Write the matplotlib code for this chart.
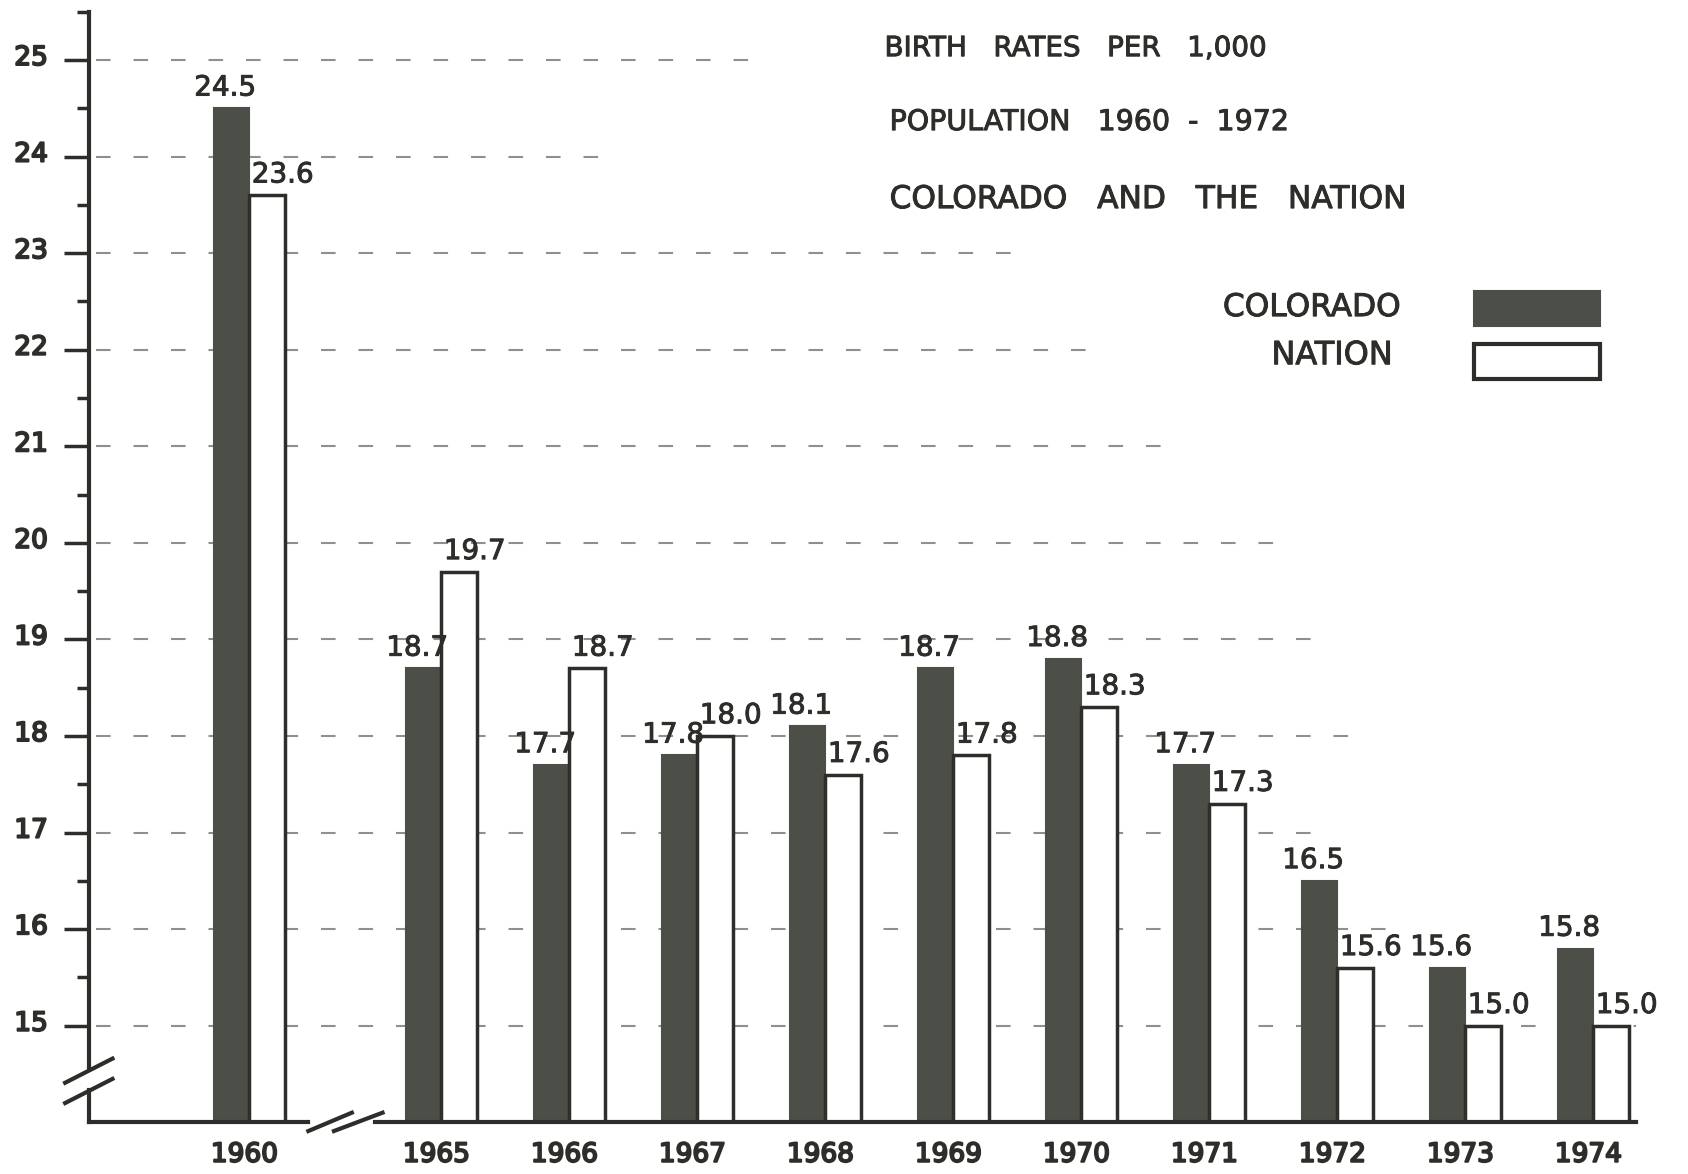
import numpy as np
import matplotlib.pyplot as plt
import matplotlib.transforms as mtransforms
import matplotlib.patheffects as pe
from matplotlib.patches import Rectangle

# birth rates per 1,000 population
years = ['1960', '1965', '1966', '1967', '1968', '1969', '1970', '1971', '1972', '1973', '1974']
colorado = [24.5, 18.7, 17.7, 17.8, 18.1, 18.7, 18.8, 17.7, 16.5, 15.6, 15.8]
nation = [23.6, 19.7, 18.7, 18.0, 17.6, 17.8, 18.3, 17.3, 15.6, 15.0, 15.0]

ink = '#2d2e29'
dark = '#4b4f47'
plt.rcParams['font.family'] = ['DejaVu Sans']
heavy = [pe.withStroke(linewidth=0.7, foreground=ink)]
heavier = [pe.withStroke(linewidth=1.4, foreground=ink)]

# group positions: extra gap after 1960 where the axis is broken
x = np.arange(len(years)) + 0.5
x[0] = 0.0
w = 0.28

fig = plt.figure(figsize=(16.88, 11.74), dpi=100)
ax = fig.add_axes([0.053, 0.044, 0.916, 0.946])
ax.set_xlim(-1.25, 10.83)
ax.set_ylim(14, 25.5)
for s in ax.spines.values():
    s.set_visible(False)

# dashed guide lines, each stopping part way across
grid_end = {25: 3.93, 24: 2.84, 23: 5.95, 22: 6.54, 21: 7.17, 20: 8.09,
            19: 8.34, 18: 8.76, 17: 8.4, 16: 8.97, 15: 10.83}
for lvl, xe in grid_end.items():
    ax.plot([-1.2, xe], [lvl, lvl], color='#6a6a64', lw=1.5,
            ls=(0, (7, 11)), alpha=0.75, zorder=1)

ax.bar(x - w / 2, np.array(colorado) - 14, w, bottom=14, color=dark,
       edgecolor=dark, lw=1.5, zorder=3)
ax.bar(x + w / 2, np.array(nation) - 14, w, bottom=14, color='white',
       edgecolor=ink, lw=2.5, zorder=3)

for xi, c, n in zip(x, colorado, nation):
    ax.text(xi - w / 2 - 0.05, c + 0.07, f'{c:.1f}', ha='center', va='bottom',
            fontsize=20, color=ink, zorder=4, path_effects=heavy)
    ax.text(xi + w / 2 + 0.12, n + 0.07, f'{n:.1f}', ha='center', va='bottom',
            fontsize=20, color=ink, zorder=4, path_effects=heavy)

# y axis with a break near the bottom
ax.plot([-1.25, -1.25], [14.57, 25.5], color=ink, lw=3, clip_on=False, zorder=5)
ax.plot([-1.25, -1.25], [14, 14.33], color=ink, lw=3, clip_on=False, zorder=5)
ax.plot([-1.44, -1.07], [14.41, 14.66], color=ink, lw=3, clip_on=False, zorder=5)
ax.plot([-1.44, -1.07], [14.2, 14.45], color=ink, lw=3, clip_on=False, zorder=5)

# x axis with a break between 1960 and 1965
ax.plot([-1.25, 0.46], [14, 14], color=ink, lw=3, clip_on=False, zorder=5)
ax.plot([0.98, 10.83], [14, 14], color=ink, lw=3, clip_on=False, zorder=5)
ax.plot([0.46, 0.8], [13.91, 14.1], color=ink, lw=3, clip_on=False, zorder=5)
ax.plot([0.66, 1.04], [13.91, 14.1], color=ink, lw=3, clip_on=False, zorder=5)

ax.set_yticks(np.arange(15, 26))
ax.set_yticks(np.arange(15.5, 26, 1), minor=True)
ax.tick_params(axis='y', which='major', direction='out', length=18, width=2.5,
               color=ink, labelsize=19, labelcolor=ink, pad=12)
ax.tick_params(axis='y', which='minor', direction='out', length=9, width=2.5, color=ink)
ax.yaxis.set_ticks_position('left')
# numbers sit a little above their ticks
lift = mtransforms.ScaledTranslation(0, 0.05, fig.dpi_scale_trans)
for lab in ax.get_yticklabels():
    lab.set_transform(lab.get_transform() + lift)
    lab.set_path_effects(heavier)

ax.set_xticks(x - 0.04)
ax.set_xticklabels(years)
ax.tick_params(axis='x', length=0, labelsize=19, labelcolor=ink, pad=14)
for lab in ax.get_xticklabels():
    lab.set_path_effects(heavier)

# title block
fig.text(0.524, 0.959, 'BIRTH   RATES   PER   1,000', fontsize=20, color=ink,
         va='center', path_effects=heavy)
fig.text(0.527, 0.896, 'POPULATION   1960  -  1972', fontsize=20.5, color=ink,
         va='center', path_effects=heavy)
fig.text(0.527, 0.830, 'COLORADO   AND   THE   NATION', fontsize=22.5, color=ink,
         va='center', path_effects=heavy)

# key
fig.text(0.830, 0.738, 'COLORADO', fontsize=22.5, color=ink, ha='right', va='center',
         path_effects=heavy)
fig.text(0.825, 0.697, 'NATION', fontsize=23, color=ink, ha='right', va='center',
         path_effects=heavy)
fig.patches.append(Rectangle((0.873, 0.722), 0.0746, 0.030, transform=fig.transFigure,
                             facecolor=dark, edgecolor=dark, lw=1.5))
fig.patches.append(Rectangle((0.873, 0.677), 0.0746, 0.030, transform=fig.transFigure,
                             facecolor='white', edgecolor=ink, lw=3))

fig.savefig('out.png', dpi=100)
